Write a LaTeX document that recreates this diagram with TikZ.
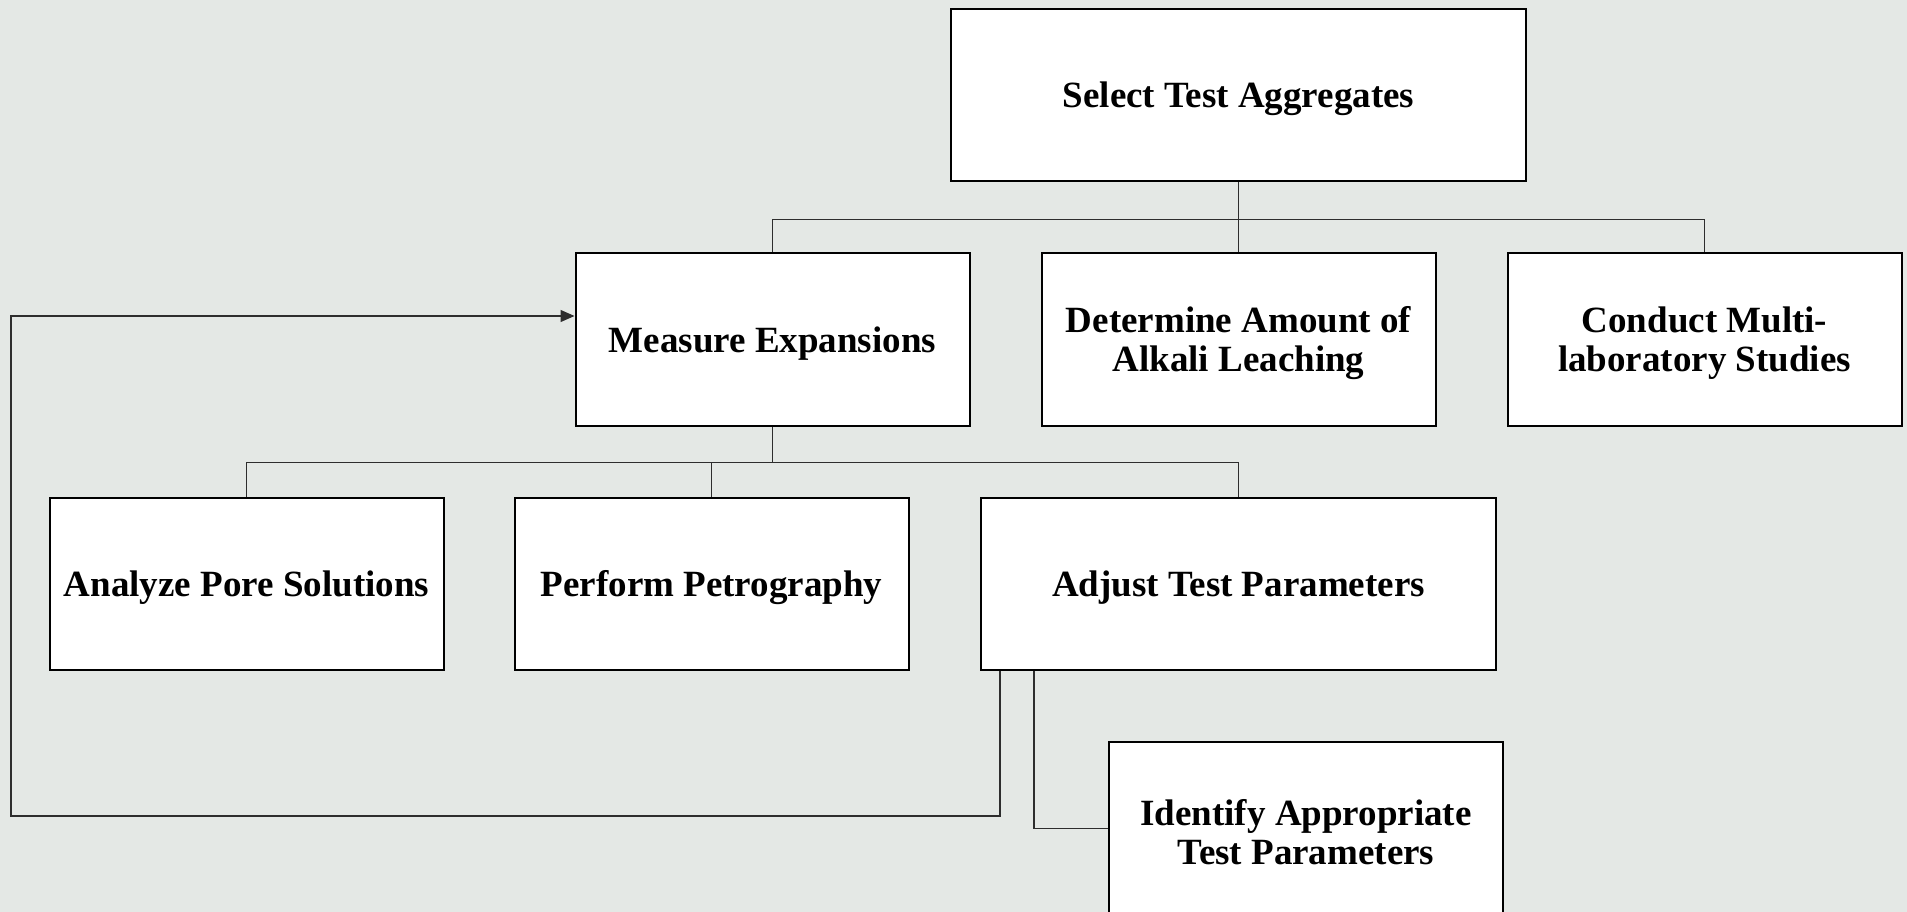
\documentclass[tikz,border=0pt]{standalone}
\usepackage{fontspec}
\setmainfont{Liberation Serif}
\usepackage{tikz}
\usetikzlibrary{positioning,arrows.meta}
\definecolor{camo}{RGB}{228,232,229}
\definecolor{wire}{RGB}{45,45,45}
\newcommand{\lift}{\rule{0pt}{33pt}}
\begin{document}
\begin{tikzpicture}[x=1pt,y=-1pt,node distance=244.5pt,on grid]
        \tikzstyle{box}=[draw=black,line width=2pt,fill=white,align=center,inner sep=0pt,
            minimum width=394pt,minimum height=172.5pt,font=\fontsize{37}{39}\selectfont\bfseries]
        \tikzstyle{link}=[draw=wire,line width=1.3pt]
        \path[use as bounding box,fill=camo] (0,0) rectangle (1907,912);
        \clip (0,0) rectangle (1907,912);
        \node[box,minimum width=575pt] (Sa) at (1238.5,95) {\lift Select Test Aggregates};
        \node[box] (Da) [below=of Sa] {\lift Determine Amount of\\Alkali Leaching};
        \node[box] (Me) [left=466pt of Da] {\lift Measure Expansions};
        \node[box] (Cm) [right=466pt of Da] {\lift Conduct Multi-\\laboratory Studies};
        \node[box,minimum width=515pt] (At) [below=of Da] {\lift Adjust Test Parameters};
        \node[box] (Pp) [left=527pt of At] {\lift Perform Petrography};
        \node[box] (Ap) [left=465pt of Pp] {\lift Analyze Pore Solutions};
        \node[box] (Ia) [below right=244.5pt and 67.5pt of At] {\lift Identify Appropriate\\Test Parameters};
        \coordinate (Lp) at (11,816);
        % tree links
        \path[link] (Sa.south) -- ++(0,37) coordinate (B1);
        \path[link] (Me.north) |- (B1) -| (Cm.north) (Da.north) -- (B1);
        \path[link] (Me.south) -- ++(0,36) coordinate (B2);
        \path[link] (Ap.north) |- (B2) -| (At.north) (Pp.north) -- (Pp.north |- B2);
        % loop back
        \path[link,-{Triangle[length=14pt,width=12pt]}] ([xshift=20pt]At.south west) |- (Lp) |- ([yshift=23.5pt]Me.west);
        \path[link] ([xshift=54pt]At.south west) |- (Ia.west);
    \end{tikzpicture}
\end{document}
